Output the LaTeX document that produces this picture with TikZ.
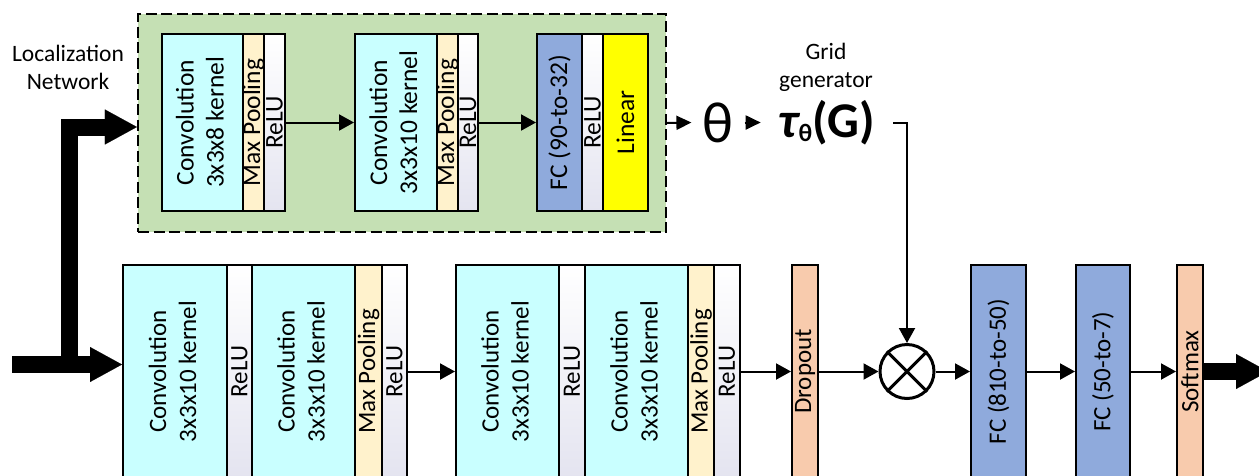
\documentclass[tikz,border=0pt]{standalone}
\usepackage{fontspec}
\setmainfont{Carlito}
\usetikzlibrary{arrows.meta}
\definecolor{convc}{HTML}{C9FFFF}
\definecolor{poolc}{HTML}{FFF2CC}
\definecolor{fcc}{HTML}{8FAADC}
\definecolor{dropc}{HTML}{F8CBAD}
\definecolor{greenc}{HTML}{C5E0B4}
\definecolor{linc}{HTML}{FFFF00}
\definecolor{reluc}{HTML}{E4E4F0}
\newcommand{\vlab}[1]{\makebox[0pt]{\rotatebox{90}{#1}}}
\newcommand{\vtwo}[2]{\makebox[0pt]{\rotatebox{90}{\begin{tabular}{@{}c@{}}#1\\#2\end{tabular}}}}
\tikzset{
  blk/.style={draw, line width=2pt, inner sep=0pt},
  topb/.style={blk, minimum height=177pt, font=\fontsize{25.5}{30}\selectfont},
  botb/.style={blk, minimum height=213pt, font=\fontsize{25}{30}\selectfont},
  conv/.style={fill=convc},
  pool/.style={fill=poolc},
  relu/.style={top color=white, bottom color=reluc},
  fcb/.style={fill=fcc},
  drp/.style={fill=dropc},
  arr/.style={line width=2pt, -{Triangle[length=15pt,width=16pt]}},
  sarr/.style={line width=2pt, -{Triangle[length=15pt,width=14pt]}},
  big/.style={line width=17pt, -{Triangle[length=32pt,width=35pt,line width=0.1pt]}},
  txt/.style={align=center, inner sep=0pt, font=\fontsize{23.5}{28}\selectfont}
}
\begin{document}
\begin{tikzpicture}[x=1pt,y=-1pt]
\useasboundingbox (0,0) rectangle (1259,475);
\clip (0,0) rectangle (1259,475);

% localization network background
\node[draw, line width=2.2pt, dash pattern=on 11pt off 4.5pt, fill=greenc,
      minimum width=528pt, minimum height=218pt, inner sep=0pt] (loc) at (402,123) {};

% top row
\node[topb,conv,minimum width=81pt] (c1) at (202.5,122.5) {\vtwo{Convolution}{3x3x8 kernel}};
\node[topb,pool,minimum width=21pt] (mp1) at (253.5,122.5) {\vlab{Max Pooling}};
\node[topb,relu,minimum width=21pt] (r1) at (274.5,122.5) {\vlab{ReLU}};
\node[topb,conv,minimum width=82pt] (c2) at (396,122.5) {\vtwo{Convolution}{3x3x10 kernel}};
\node[topb,pool,minimum width=21pt] (mp2) at (447.5,122.5) {\vlab{Max Pooling}};
\node[topb,relu,minimum width=20pt] (r2) at (468,122.5) {\vlab{ReLU}};
\node[topb,fcb,minimum width=45pt] (fc1) at (559.5,122.5) {\vlab{FC (90-to-32)}};
\node[topb,relu,minimum width=21pt] (r3) at (592.5,122.5) {\vlab{ReLU}};
\node[topb,fill=linc,minimum width=45pt] (lin) at (625.5,122.5) {\vlab{Linear}};

\draw[arr] (r1.east) -- (c2.west);
\draw[arr] (r2.east) -- (fc1.west);

% labels
\node[txt] (locT) at (68,67) {Localization\\Network};
\node[txt] (gridT) at (826,67) {Grid\\generator};

% theta and grid generator
\node[inner xsep=11pt, inner ysep=0pt, font=\fontsize{58}{58}\selectfont] (th) at (718,122.5) {θ};
\node[inner xsep=18pt, inner ysep=0pt, font=\fontsize{50}{50}\bfseries\selectfont] (tau) at (827,122.5)
  {{\itshape τ}\raisebox{-4pt}{\fontsize{25}{25}\selectfont θ}(G)};
\draw[sarr] (loc.east) -- (th.west);
\draw[sarr] (th.east) -- (tau.west);

% bottom row
\node[botb,conv,minimum width=104pt] (cA) at (175,371.5) {\vtwo{Convolution}{3x3x10 kernel}};
\node[botb,relu,minimum width=25pt] (rA) at (239.5,371.5) {\vlab{ReLU}};
\node[botb,conv,minimum width=103pt] (cB) at (303.5,371.5) {\vtwo{Convolution}{3x3x10 kernel}};
\node[botb,pool,minimum width=27pt] (mpB) at (368.5,371.5) {\vlab{Max Pooling}};
\node[botb,relu,minimum width=25pt] (rB) at (394.5,371.5) {\vlab{ReLU}};
\node[botb,conv,minimum width=103pt] (cC) at (507.5,371.5) {\vtwo{Convolution}{3x3x10 kernel}};
\node[botb,relu,minimum width=26pt] (rC) at (572,371.5) {\vlab{ReLU}};
\node[botb,conv,minimum width=103pt] (cD) at (636.5,371.5) {\vtwo{Convolution}{3x3x10 kernel}};
\node[botb,pool,minimum width=26pt] (mpD) at (701,371.5) {\vlab{Max Pooling}};
\node[botb,relu,minimum width=26pt] (rD) at (727,371.5) {\vlab{ReLU}};
\node[botb,drp,minimum width=26pt] (drop) at (805,371.5) {\vlab{Dropout}};
\node[circle, draw, line width=3pt, minimum size=54pt, inner sep=0pt] (mult) at (907,371.5) {};
\draw[line width=3pt] (mult.45) -- (mult.225) (mult.135) -- (mult.315);
\node[botb,fcb,minimum width=55pt] (fcA) at (998.5,371.5) {\vlab{FC (810-to-50)}};
\node[botb,fcb,minimum width=54pt] (fcB) at (1103,371.5) {\vlab{FC (50-to-7)}};
\node[botb,drp,minimum width=26pt] (soft) at (1190,371.5) {\vlab{Softmax}};

\draw[arr] (rB.east) -- (cC.west);
\draw[arr] (rD.east) -- (drop.west);
\draw[arr] (drop.east) -- (mult.west);
\draw[arr] (mult.east) -- (fcA.west);
\draw[arr] (fcA.east) -- (fcB.west);
\draw[arr] (fcB.east) -- (soft.west);
\draw[arr] (tau.east) -| (mult.north);

% thick input / output arrows
\coordinate (inL) at (12,364.5);
\coordinate (jn) at (69.5,364.5);
\coordinate (topT) at (137,127);
\coordinate (outE) at (1268,371.5);
\draw[big] (inL) -- (inL -| cA.west);
\draw[big] (jn) |- (topT -| loc.west);
\draw[big] (soft.east) -- (outE);
\end{tikzpicture}
\end{document}
